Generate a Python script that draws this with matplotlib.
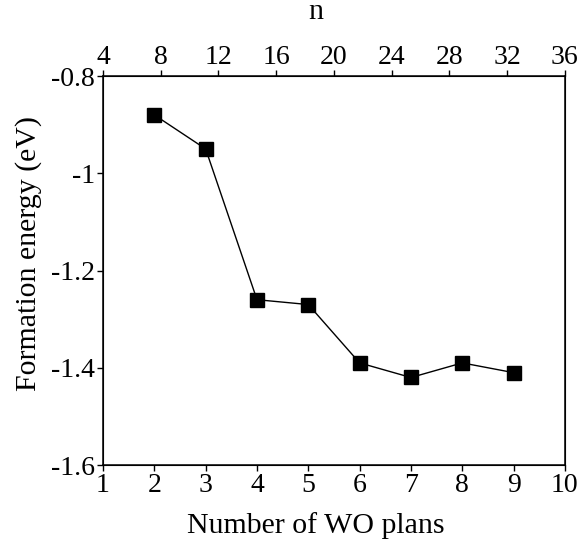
import matplotlib
matplotlib.use("Agg")
import matplotlib.pyplot as plt
import numpy as np

plt.rcParams['font.family'] = ['Liberation Serif', 'DejaVu Serif']

# number of WO planes and formation energy (eV)
planes = [2, 3, 4, 5, 6, 7, 8, 9]
energy = [-0.88, -0.95, -1.26, -1.27, -1.39, -1.42, -1.39, -1.41]

x_ticks = np.arange(1, 11)
y_ticks = [-1.6, -1.4, -1.2, -1, -0.8]
y_tick_labels = ['-1.6', '-1.4', '-1.2', '-1', '-0.8']
n_ticks = np.arange(4, 37, 4)

fig = plt.figure(figsize=(5.8, 5.54), dpi=100)
ax = fig.add_axes([0.1776, 0.1606, 0.7964, 0.7022])

ax.plot(planes, energy, color='black', lw=1.0, marker='s', markersize=10.5,
        markerfacecolor='black', markeredgecolor='black')

ax.set_xlim(1, 10)
ax.set_ylim(-1.6, -0.8)
ax.set_xticks(x_ticks)
ax.set_yticks(y_ticks)
ax.set_yticklabels(y_tick_labels)
ax.tick_params(direction='out', length=4, width=1, labelsize=20, right=False, top=False)
ax.tick_params(axis='y', pad=2)
ax.tick_params(axis='x', pad=1.5)
ax.set_xlabel('Number of WO plans', fontsize=21.5, labelpad=10)
ax.set_ylabel('Formation energy (eV)', fontsize=21.5, labelpad=6)
# labels sit a bit off-centre in the original
ax.xaxis.label.set_x(0.461)
ax.yaxis.label.set_y(0.545)
for s in ax.spines.values():
    s.set_linewidth(1.1)

top = ax.twiny()
top.set_xlim(4, 36)
top.set_xticks(n_ticks)
top.tick_params(direction='out', length=4, width=1, labelsize=20, pad=0)
top.set_xlabel('n', fontsize=21.5, labelpad=19)
top.xaxis.label.set_x(0.461)

fig.savefig('out.png', dpi=100)
